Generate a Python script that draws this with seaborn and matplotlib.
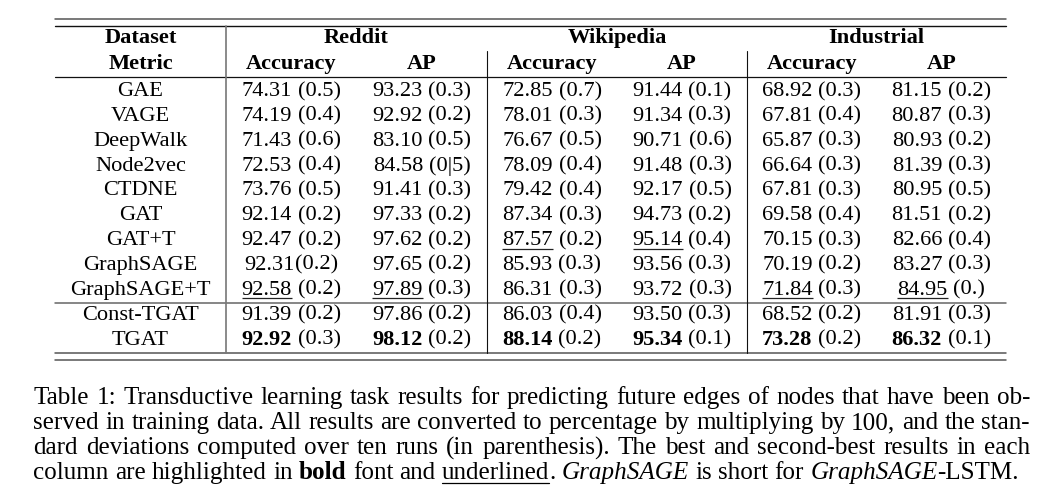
import matplotlib
matplotlib.use("Agg")
import matplotlib.pyplot as plt
import seaborn as sns
import pandas as pd
import re

# ---------------- data ----------------
datasets = ["Reddit", "Wikipedia", "Industrial"]
metrics = ["Accuracy", "AP"]
methods = ["GAE", "VAGE", "DeepWalk", "Node2vec", "CTDNE", "GAT", "GAT+T",
           "GraphSAGE", "GraphSAGE+T", "Const-TGAT", "TGAT"]

reddit_acc = ["74.31", "74.19", "71.43", "72.53", "73.76", "92.14", "92.47", "92.31", "92.58", "91.39", "92.92"]
reddit_acc_sd = ["0.5", "0.4", "0.6", "0.4", "0.5", "0.2", "0.2", "0.2", "0.2", "0.2", "0.3"]
reddit_ap = ["93.23", "92.92", "83.10", "84.58", "91.41", "97.33", "97.62", "97.65", "97.89", "97.86", "98.12"]
reddit_ap_sd = ["0.3", "0.2", "0.5", "0|5", "0.3", "0.2", "0.2", "0.2", "0.3", "0.2", "0.2"]
wiki_acc = ["72.85", "78.01", "76.67", "78.09", "79.42", "87.34", "87.57", "85.93", "86.31", "86.03", "88.14"]
wiki_acc_sd = ["0.7", "0.3", "0.5", "0.4", "0.4", "0.3", "0.2", "0.3", "0.3", "0.4", "0.2"]
wiki_ap = ["91.44", "91.34", "90.71", "91.48", "92.17", "94.73", "95.14", "93.56", "93.72", "93.50", "95.34"]
wiki_ap_sd = ["0.1", "0.3", "0.6", "0.3", "0.5", "0.2", "0.4", "0.3", "0.3", "0.3", "0.1"]
ind_acc = ["68.92", "67.81", "65.87", "66.64", "67.81", "69.58", "70.15", "70.19", "71.84", "68.52", "73.28"]
ind_acc_sd = ["0.3", "0.4", "0.3", "0.3", "0.3", "0.4", "0.3", "0.2", "0.3", "0.2", "0.2"]
ind_ap = ["81.15", "80.87", "80.93", "81.39", "80.95", "81.51", "82.66", "83.27", "84.95", "81.91", "86.32"]
ind_ap_sd = ["0.2", "0.3", "0.2", "0.3", "0.5", "0.2", "0.4", "0.3", "0.", "0.3", "0.1"]

# best (bold) and second best (underlined) row per column
best_row = ["TGAT", "TGAT", "TGAT", "TGAT", "TGAT", "TGAT"]
second_row = ["GraphSAGE+T", "GraphSAGE+T", "GAT+T", "GAT+T", "GraphSAGE+T", "GraphSAGE+T"]
tight_cells = [("GraphSAGE", 0)]  # cells printed without a space before "("

caption_lines = [
    "Table 1: Transductive learning task results for predicting future edges of nodes that have been ob-",
    "served in training data. All results are converted to percentage by multiplying by 100, and the stan-",
    "dard deviations computed over ten runs (in parenthesis).  The best and second-best results in each",
    "column are highlighted in [b]bold[/] font and [u]underlined[/]. [i]GraphSAGE[/] is short for [i]GraphSAGE[/]-LSTM.",
]

values = [reddit_acc, reddit_ap, wiki_acc, wiki_ap, ind_acc, ind_ap]
stds = [reddit_acc_sd, reddit_ap_sd, wiki_acc_sd, wiki_ap_sd, ind_acc_sd, ind_ap_sd]
table = pd.DataFrame({f"{d}|{m}": v for (d, m), v in
                      zip([(d, m) for d in datasets for m in metrics], values)}, index=methods)
table_sd = pd.DataFrame({c: s for c, s in zip(table.columns, stds)}, index=methods)

# ---------------- style ----------------
sns.set_theme(style="white")
plt.rcParams["font.family"] = ["Liberation Serif", "DejaVu Serif"]
plt.rcParams["text.color"] = "black"

W, H = 1048, 498
fig = plt.figure(figsize=(W / 100, H / 100), dpi=100)
ax = fig.add_axes([0, 0, 1, 1])
ax.set_xlim(0, W)
ax.set_ylim(H, 0)
ax.axis("off")
sns.despine(ax=ax, left=True, bottom=True)
r = fig.canvas.get_renderer()

FS = 16.1       # table font (pt)
CFS = 18.1      # caption font (pt)

def tw(s, **kw):
    t = ax.text(0, 0, s, **kw)
    w = t.get_window_extent(r).width
    t.remove()
    return w

def space_w(**kw):
    return tw("a a", **kw) - tw("aa", **kw)

# ---------------- layout ----------------
x_left, x_right = 55, 1006
col_edges = [x_left, 226, 356.5, 487, 617, 747, 876.5, x_right]
hdr1_y, hdr2_y = 43.3, 69.3
row0_y, row_step = 96.0, 24.85

def col_center(i):
    return 0.5 * (col_edges[i] + col_edges[i + 1])

# header
ax.text(col_center(0), hdr1_y, "Dataset", ha="center", va="baseline", fontsize=FS, fontweight="bold")
ax.text(col_center(0), hdr2_y, "Metric", ha="center", va="baseline", fontsize=FS, fontweight="bold")
for k, d in enumerate(datasets):
    xc = 0.5 * (col_edges[1 + 2 * k] + col_edges[3 + 2 * k])
    ax.text(xc, hdr1_y, d, ha="center", va="baseline", fontsize=FS, fontweight="bold")
    for j, m in enumerate(metrics):
        ax.text(col_center(1 + 2 * k + j), hdr2_y, m, ha="center", va="baseline",
                fontsize=FS, fontweight="bold")

# body
sp = space_w(fontsize=FS)
for i, meth in enumerate(methods):
    y = row0_y + i * row_step
    ax.text(col_center(0), y, meth, ha="center", va="baseline", fontsize=FS)
    for c, col in enumerate(table.columns):
        num = table.loc[meth, col]
        sd = "(" + table_sd.loc[meth, col] + ")"
        wt = "bold" if best_row[c] == meth else "normal"
        gap = 0 if (meth, c) in tight_cells else sp
        wn = tw(num, fontsize=FS, fontweight=wt)
        ws = tw(sd, fontsize=FS)
        x0 = col_center(1 + c) - (wn + gap + ws) / 2
        ax.text(x0, y, num, ha="left", va="baseline", fontsize=FS, fontweight=wt)
        ax.text(x0 + wn + gap, y, sd, ha="left", va="baseline", fontsize=FS)
        if second_row[c] == meth:
            ax.plot([x0, x0 + wn], [y + 3.5, y + 3.5], color="#222222", lw=0.9,
                    solid_capstyle="butt")

# rules
ax.plot([x_left, x_right], [19, 19], color="#555555", lw=1.1)
ax.plot([x_left, x_right], [25.5, 25.5], color="#111111", lw=1.0)
ax.plot([x_left, x_right], [77, 77], color="#111111", lw=0.9)
ax.plot([x_left, x_right], [303, 303], color="#666666", lw=1.1)
ax.plot([x_left, x_right], [353, 353], color="#555555", lw=1.1)
ax.plot([x_left, x_right], [359.5, 359.5], color="#555555", lw=1.1)
ax.plot([226, 226], [25.5, 353], color="#777777", lw=1.2)
for xv in (487, 747):
    ax.plot([xv, xv], [51, 353], color="#111111", lw=0.8)

# ---------------- caption (justified) ----------------
def parse(line):
    toks = []
    for m in re.finditer(r"\[(b|i|u)\](.*?)\[/\]|([^\[]+)", line):
        if m.group(1):
            toks.append((m.group(2), m.group(1)))
        else:
            toks.append((m.group(3), "n"))
    words, cur = [], []
    for text, st in toks:
        for p in re.split(r"( +)", text):
            if p == "":
                continue
            if p.startswith(" "):
                if cur:
                    words.append(cur)
                    cur = []
            else:
                cur.append((p, st))
    if cur:
        words.append(cur)
    return words

def seg_kw(st):
    kw = dict(fontsize=CFS)
    if st == "b":
        kw["fontweight"] = "bold"
    if st == "i":
        kw["fontstyle"] = "italic"
    return kw

cap_x0, cap_x1 = 33.5, 1030
cap_y0, cap_step = 404.3, 25.0
csp = space_w(fontsize=CFS)
for li, line in enumerate(caption_lines):
    words = parse(line)
    widths = [[tw(s, **seg_kw(st)) for s, st in w] for w in words]
    total = sum(sum(ws) for ws in widths)
    last = li == len(caption_lines) - 1
    gap = csp if last else (cap_x1 - cap_x0 - total) / (len(words) - 1)
    x = cap_x0
    y = cap_y0 + li * cap_step
    for w, ws in zip(words, widths):
        for (s, st), wd in zip(w, ws):
            ax.text(x, y, s, ha="left", va="baseline", **seg_kw(st))
            if st == "u":
                ax.plot([x, x + wd], [y + 3.5, y + 3.5], color="black", lw=0.9)
            x += wd
        x += gap

fig.savefig("out.png", dpi=100)
